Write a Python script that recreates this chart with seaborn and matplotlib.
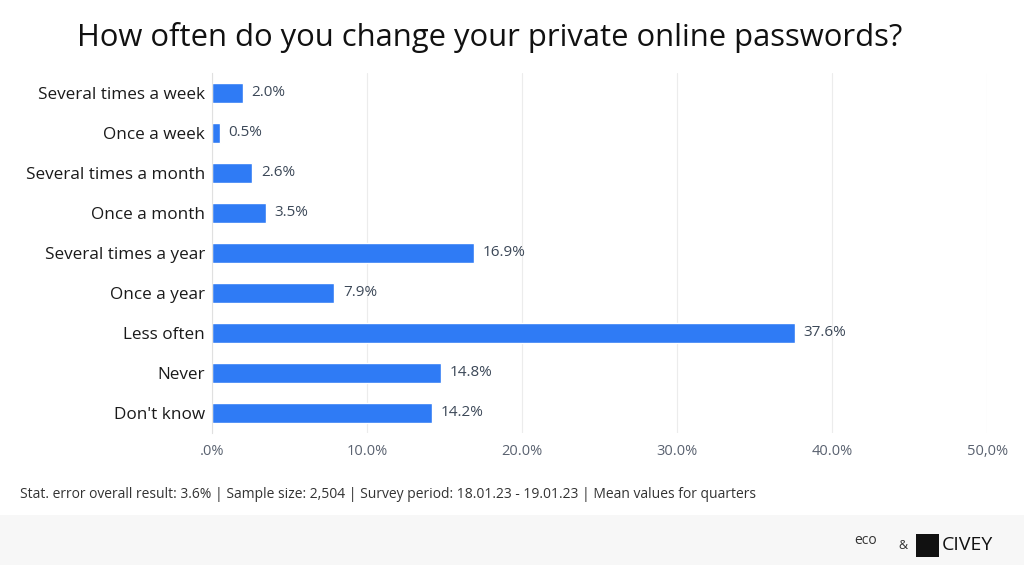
import matplotlib
matplotlib.use("Agg")
import matplotlib.pyplot as plt
import seaborn as sns
import pandas as pd
from matplotlib.patches import Rectangle

categories = ["Several times a week", "Once a week", "Several times a month",
              "Once a month", "Several times a year", "Once a year",
              "Less often", "Never", "Don't know"]
values = [2.0, 0.5, 2.6, 3.5, 16.9, 7.9, 37.6, 14.8, 14.2]
tick_values = [0, 10, 20, 30, 40, 50]
tick_labels = [".0%", "10.0%", "20.0%", "30.0%", "40.0%", "50,0%"]

title = "How often do you change your private online passwords?"
footer = "Stat. error overall result: 3.6% | Sample size: 2,504 | Survey period: 18.01.23 - 19.01.23 | Mean values for quarters"

sns.set_theme(style="white")
plt.rcParams['font.family'] = ['Open Sans', 'DejaVu Sans']

df = pd.DataFrame({"cat": categories, "val": values})

fig = plt.figure(figsize=(10.24, 5.65), dpi=100)
ax = fig.add_axes([0.207, 0.234, 0.757, 0.637])

sns.barplot(data=df, x="val", y="cat", color="#2f7bf5", width=0.5, ax=ax,
            saturation=1, order=categories)

ax.set_xlim(0, 50)
ax.set_ylim(8.5, -0.5)
ax.set_xticks(tick_values)
ax.set_xticklabels(tick_labels, color="#5a6270", fontsize=10.5)
ax.tick_params(axis="x", length=0, pad=8)
ax.tick_params(axis="y", length=0, pad=5)
for lbl in ax.get_yticklabels():
    lbl.set_fontsize(12.3)
    lbl.set_color("#1a1a1a")
ax.set_xlabel("")
ax.set_ylabel("")
ax.grid(axis="x", color="#ececec", linewidth=0.8)
ax.set_axisbelow(True)
for s in ["top", "right", "bottom"]:
    ax.spines[s].set_visible(False)
ax.spines["left"].set_color("#e0e0e0")
ax.spines["left"].set_linewidth(0.8)

for i, v in enumerate(values):
    ax.text(v + 0.55, i, f"{v:.1f}%", va="center", ha="left",
            fontsize=11, color="#3c4858")

fig.text(0.478, 0.933, title, ha="center", va="center", fontsize=22.3, color="#111111")
fig.text(0.02, 0.125, footer, ha="left", va="center", fontsize=10, color="#333333")

# footer band
fig.patches.append(Rectangle((0, 0), 1, 0.088, transform=fig.transFigure,
                             facecolor="#f7f7f7", edgecolor="none", zorder=0))
fig.text(0.845, 0.044, "eco", ha="center", va="center", fontsize=10, color="#333333")
fig.text(0.882, 0.035, "&", ha="center", va="center", fontsize=9, color="#333333")
fig.patches.append(Rectangle((0.895, 0.015), 0.022, 0.04, transform=fig.transFigure,
                             facecolor="#111111", edgecolor="none"))
fig.text(0.92, 0.035, "CIVEY", ha="left", va="center", fontsize=14, color="#111111")

fig.savefig("out.png", dpi=100)
